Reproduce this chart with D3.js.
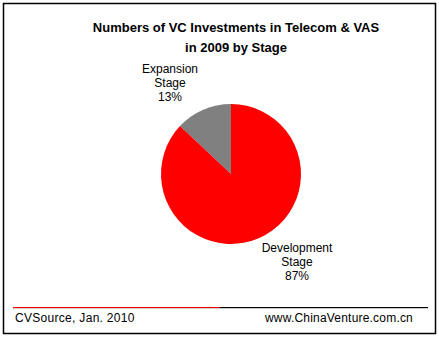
<!DOCTYPE html>
<html>
<head>
<meta charset="utf-8">
<script src="https://cdn.jsdelivr.net/npm/d3@7"></script>
<style>
  html, body { margin: 0; padding: 0; background: #fff; }
  svg { display: block; }
  text { font-family: "Liberation Sans", Arial, sans-serif; fill: #000; }
</style>
</head>
<body>
<svg id="chart" width="439" height="339"></svg>
<script>
// Share of VC deals by stage (percent)
const stages = ["Expansion Stage", "Development Stage"];
const shares = [13, 87];
const colors = ["#808080", "#ff0000"];
const titleLines = ["Numbers of VC Investments in Telecom & VAS", "in 2009 by Stage"];
const sourceText = "CVSource, Jan. 2010";
const siteText = "www.ChinaVenture.com.cn";

const svg = d3.select("#chart");

// outer frame
svg.append("rect")
  .attr("x", 3.5).attr("y", 3.5)
  .attr("width", 432).attr("height", 330)
  .attr("fill", "#fff").attr("stroke", "#000").attr("stroke-width", 1.5);

// title
svg.selectAll("text.title").data(titleLines).join("text")
  .attr("class", "title")
  .attr("x", 236).attr("y", (d, i) => 32 + i * 20)
  .attr("text-anchor", "middle")
  .attr("font-size", 13).attr("font-weight", "bold")
  .text(d => d);

// pie, drawn counter-clockwise from 12 o'clock
const cx = 231, cy = 174, r = 70;
const data = stages.map((s, i) => ({ stage: s, value: shares[i], color: colors[i] }));
const pie = d3.pie().value(d => d.value).sort(null)
  .startAngle(0).endAngle(-2 * Math.PI);
const arc = d3.arc().innerRadius(0).outerRadius(r);
const g = svg.append("g").attr("transform", `translate(${cx},${cy})`);
g.selectAll("path").data(pie(data)).join("path")
  .attr("d", arc)
  .attr("fill", d => d.data.color);

// slice labels
const labelPos = [[170, 73], [297, 252]];
data.forEach((d, i) => {
  const parts = d.stage.split(" ").concat([d.value + "%"]);
  svg.append("text")
    .attr("text-anchor", "middle")
    .attr("font-size", 12)
    .selectAll("tspan").data(parts).join("tspan")
    .attr("x", labelPos[i][0])
    .attr("y", (p, j) => labelPos[i][1] + j * 14.2)
    .text(p => p);
});

// footer rule: red then black, with faint shadow
svg.append("line").attr("x1", 13).attr("x2", 428).attr("y1", 308.5).attr("y2", 308.5)
  .attr("stroke", "#ccc").attr("stroke-width", 1);
svg.append("line").attr("x1", 13).attr("x2", 220).attr("y1", 307.5).attr("y2", 307.5)
  .attr("stroke", "#ff0000").attr("stroke-width", 1);
svg.append("line").attr("x1", 220).attr("x2", 428).attr("y1", 307.5).attr("y2", 307.5)
  .attr("stroke", "#000").attr("stroke-width", 1);

svg.append("text").attr("x", 15).attr("y", 322)
  .attr("font-size", 12).attr("letter-spacing", 0.3).text(sourceText);
svg.append("text").attr("x", 413).attr("y", 322)
  .attr("text-anchor", "end")
  .attr("font-size", 12).attr("letter-spacing", 0.2).text(siteText);
</script>
</body>
</html>
